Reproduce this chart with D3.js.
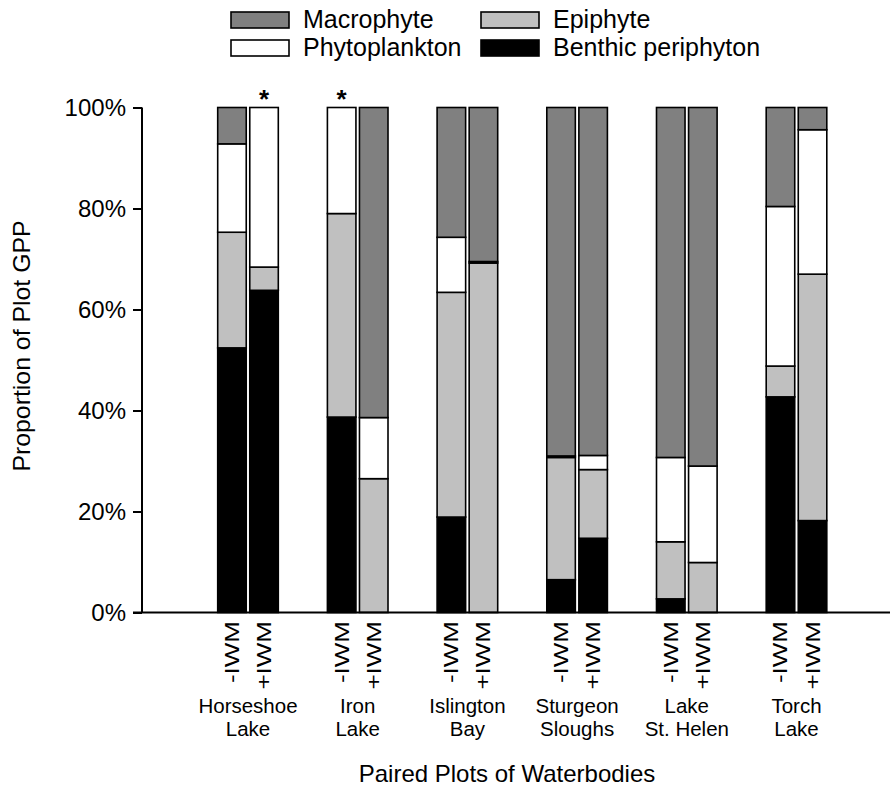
<!DOCTYPE html>
<html>
<head>
<meta charset="utf-8">
<script src="https://cdn.jsdelivr.net/npm/d3@7"></script>
<style>
  html, body { margin: 0; padding: 0; background: #fff; }
  svg { display: block; font-family: Arial, "Liberation Sans", sans-serif; }
</style>
</head>
<body>
<svg id="chart" width="890" height="787"></svg>
<script>
// Waterbodies (each has a -IWM and a +IWM plot)
const waterbodies = [
  ["Horseshoe", "Lake"],
  ["Iron", "Lake"],
  ["Islington", "Bay"],
  ["Sturgeon", "Sloughs"],
  ["Lake", "St. Helen"],
  ["Torch", "Lake"]
];
const treatments = ["-IWM", "+IWM"];

// Share of plot GPP (%) per plot, ordered waterbody by waterbody, -IWM then +IWM
const benthic       = [52.4, 63.8, 38.7,  0.0, 18.9,  0.0,  6.5, 14.7,  2.7,  0.0, 42.7, 18.2];
const epiphyte      = [22.9,  4.6, 40.3, 26.5, 44.5, 69.2, 24.2, 13.6, 11.3,  9.9,  6.1, 48.8];
const phytoplankton = [17.5, 31.6, 21.0, 12.1, 10.9,  0.3,  0.3,  2.8, 16.7, 19.1, 31.6, 28.6];
const macrophyte    = [ 7.2,  0.0,  0.0, 61.4, 25.7, 30.5, 69.0, 68.9, 69.3, 71.0, 19.6,  4.4];

// Plots flagged with a significance asterisk
const significant = ["Horseshoe Lake +IWM", "Iron Lake -IWM"];

const yTicks = [0, 20, 40, 60, 80, 100];

const components = [
  { key: "benthic",       label: "Benthic periphyton", values: benthic,       fill: "#000000" },
  { key: "epiphyte",      label: "Epiphyte",           values: epiphyte,      fill: "#c0c0c0" },
  { key: "phytoplankton", label: "Phytoplankton",      values: phytoplankton, fill: "#ffffff" },
  { key: "macrophyte",    label: "Macrophyte",         values: macrophyte,    fill: "#808080" }
];

// Build one row per plot for stacking
const rows = [];
waterbodies.forEach((wb, gi) => {
  treatments.forEach((t, ti) => {
    const i = gi * 2 + ti;
    const r = { group: gi, treatment: t, name: wb.join(" ") + " " + t };
    components.forEach(c => { r[c.key] = c.values[i]; });
    rows.push(r);
  });
});

const stack = d3.stack().keys(components.map(c => c.key));
const series = stack(rows);

const svg = d3.select("#chart");
const fontFamily = "Arial, 'Liberation Sans', sans-serif";

const axisX = 142, plotTop = 107.5, plotBottom = 612.5, axisRight = 890;

const y = d3.scaleLinear().domain([0, 100]).range([plotBottom, plotTop]);
const xGroup = d3.scaleLinear().domain([0, waterbodies.length - 1]).range([248, 796.5]);
const xSub = d3.scaleBand().domain(treatments).range([-30.3, 30.3]).paddingInner(0.11);

// Stacked bars
const barG = svg.append("g");
series.forEach((s, si) => {
  const comp = components[si];
  barG.append("g")
    .selectAll("rect")
    .data(s.filter(d => d[1] - d[0] > 0))
    .join("rect")
    .attr("x", d => xGroup(d.data.group) + xSub(d.data.treatment))
    .attr("width", xSub.bandwidth())
    .attr("y", d => y(d[1]))
    .attr("height", d => y(d[0]) - y(d[1]))
    .attr("fill", comp.fill)
    .attr("stroke", "#000")
    .attr("stroke-width", 1.6);
});

// Y axis
const yAxis = d3.axisLeft(y)
  .tickValues(yTicks)
  .tickFormat(d => d + "%")
  .tickSize(9)
  .tickPadding(7);
const yAxisG = svg.append("g")
  .attr("transform", `translate(${axisX},0)`)
  .call(yAxis);
yAxisG.select(".domain").attr("stroke", "#000").attr("stroke-width", 2)
  .attr("d", `M0,${plotBottom}V${plotTop}`);
yAxisG.selectAll(".tick line").attr("stroke", "#000").attr("stroke-width", 2);
yAxisG.selectAll(".tick text")
  .attr("font-family", fontFamily)
  .attr("font-size", 24)
  .attr("fill", "#000");

// X axis baseline
svg.append("line")
  .attr("x1", axisX - 9).attr("x2", axisRight)
  .attr("y1", y(0)).attr("y2", y(0))
  .attr("stroke", "#000").attr("stroke-width", 2);

// Treatment labels under each bar (rotated, drawn slightly elongated)
svg.append("g").selectAll("text")
  .data(rows)
  .join("text")
  .attr("transform", d => `translate(${xGroup(d.group) + xSub(d.treatment) + xSub.bandwidth() / 2},621) rotate(-90) scale(1.3,1)`)
  .attr("dy", "0.35em")
  .attr("text-anchor", "end")
  .attr("font-family", fontFamily)
  .attr("font-size", 20)
  .text(d => d.treatment);

// Waterbody names
const nameG = svg.append("g").selectAll("text")
  .data(waterbodies)
  .join("text")
  .attr("text-anchor", "middle")
  .attr("font-family", fontFamily)
  .attr("font-size", 20.5);
nameG.append("tspan").attr("x", (d, i) => xGroup(i)).attr("y", 713).text(d => d[0]);
nameG.append("tspan").attr("x", (d, i) => xGroup(i)).attr("y", 736).text(d => d[1]);

// Significance asterisks
svg.append("g").selectAll("text")
  .data(rows.filter(r => significant.includes(r.name)))
  .join("text")
  .attr("x", d => xGroup(d.group) + xSub(d.treatment) + xSub.bandwidth() / 2)
  .attr("y", 108)
  .attr("text-anchor", "middle")
  .attr("font-family", fontFamily)
  .attr("font-weight", "bold")
  .attr("font-size", 26)
  .text("*");

// Axis titles
svg.append("text")
  .attr("transform", `translate(29.5,346) rotate(-90) scale(1.08,1)`)
  .attr("text-anchor", "middle")
  .attr("font-family", fontFamily)
  .attr("font-size", 23)
  .text("Proportion of Plot GPP");

svg.append("text")
  .attr("x", 507)
  .attr("y", 782)
  .attr("text-anchor", "middle")
  .attr("font-family", fontFamily)
  .attr("font-size", 24)
  .text("Paired Plots of Waterbodies");

// Legend: two rows, two columns
const legendItems = [
  components[3], components[1],
  components[2], components[0]
];
const legendG = svg.append("g");
legendItems.forEach((c, i) => {
  const col = i % 2, row = Math.floor(i / 2);
  const lx = col === 0 ? 231 : 481;
  const ly = 12 + row * 28;
  legendG.append("rect")
    .attr("x", lx).attr("y", ly)
    .attr("width", 58).attr("height", 16)
    .attr("fill", c.fill)
    .attr("stroke", "#000").attr("stroke-width", 1.6);
  legendG.append("text")
    .attr("x", lx + 72).attr("y", ly + 16)
    .attr("font-family", fontFamily)
    .attr("font-size", 25)
    .text(c.label);
});
</script>
</body>
</html>
